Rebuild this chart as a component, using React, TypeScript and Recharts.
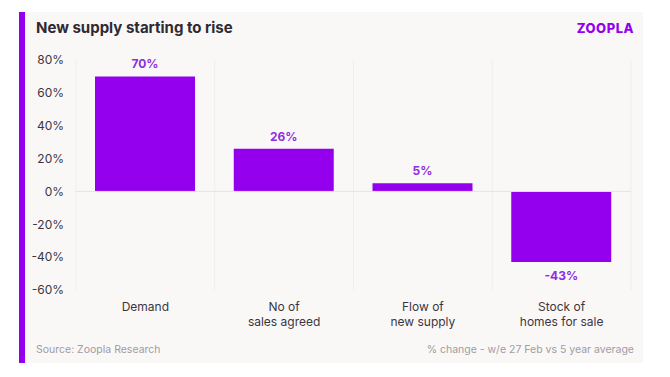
import { BarChart, Bar, XAxis, YAxis, CartesianGrid, ReferenceLine, LabelList } from "recharts";

const categories = ["Demand", "No of\nsales agreed", "Flow of\nnew supply", "Stock of\nhomes for sale"];
const changePct = [70, 26, 5, -43];
const yTicks = [-60, -40, -20, 0, 20, 40, 60, 80];

const PURPLE = "#9400ee";
const FONT = "Inter, 'Noto Sans', sans-serif";

const data = categories.map((name, i) => ({ name, value: changePct[i] }));

function CategoryTick({ x, y, payload }: any) {
  const lines = String(payload.value).split("\n");
  return (
    <text x={x} y={y} textAnchor="middle" fill="#3a3640" fontSize={12} fontFamily={FONT}>
      {lines.map((l, i) => (
        <tspan key={i} x={x} dy={i === 0 ? 13 : 15}>
          {l}
        </tspan>
      ))}
    </text>
  );
}

function ValueLabel({ x, y, width, height, value }: any) {
  const top = Math.min(y, y + height);
  const bottom = Math.max(y, y + height);
  const cx = x + width / 2;
  const ty = value >= 0 ? top - 8 : bottom + 18;
  return (
    <text x={cx} y={ty} textAnchor="middle" fill="#8e2ee0" fontSize={12} fontWeight={700} fontFamily={FONT}>
      {value}%
    </text>
  );
}

export default function App() {
  return (
    <div style={{ position: "fixed", left: 0, top: 0, width: 670, height: 377, background: "#fff", fontFamily: FONT }}>
      <div style={{ position: "absolute", left: 20, top: 12, width: 623, height: 351, background: "#faf8f7" }} />
      <div style={{ position: "absolute", left: 19, top: 12, width: 6, height: 351, background: PURPLE }} />
      <div style={{ position: "absolute", left: 36, top: 18, fontSize: 15, fontWeight: 700, color: "#2d2a33" }}>
        New supply starting to rise
      </div>
      <div style={{ position: "absolute", right: 36, top: 20, fontSize: 13, fontWeight: 800, color: PURPLE, letterSpacing: 0.5 }}>
        ZOOPLA
      </div>
      <div style={{ position: "absolute", left: 36, top: 343, fontSize: 10.5, color: "#a09ca3" }}>
        Source: Zoopla Research
      </div>
      <div style={{ position: "absolute", right: 36, top: 343, fontSize: 10.5, color: "#a09ca3" }}>
        % change - w/e 27 Feb vs 5 year average
      </div>
      <div style={{ position: "absolute", left: 0, top: 0 }}>
        <BarChart width={670} height={377} data={data} margin={{ top: 60, right: 39, bottom: 47, left: 0 }}>
          <CartesianGrid
            horizontal={false}
            stroke="#f0eded"
            verticalCoordinatesGenerator={({ offset }: any) =>
              categories.map((_, i) => offset.left + (i * offset.width) / categories.length).concat([offset.left + offset.width])
            }
          />
          <XAxis dataKey="name" axisLine={false} tickLine={false} height={40} interval={0} tick={<CategoryTick />} />
          <YAxis
            domain={[-60, 80]}
            ticks={yTicks}
            width={76}
            axisLine={false}
            tickLine={false}
            tickMargin={6}
            tickFormatter={(v) => `${v}%`}
            tick={{ fontSize: 12, fill: "#3a3640", fontFamily: FONT }}
          />
          <ReferenceLine y={0} stroke="#e6e3e3" />
          <Bar dataKey="value" fill={PURPLE} barSize={100} isAnimationActive={false}>
            <LabelList dataKey="value" content={<ValueLabel />} />
          </Bar>
        </BarChart>
      </div>
    </div>
  );
}
